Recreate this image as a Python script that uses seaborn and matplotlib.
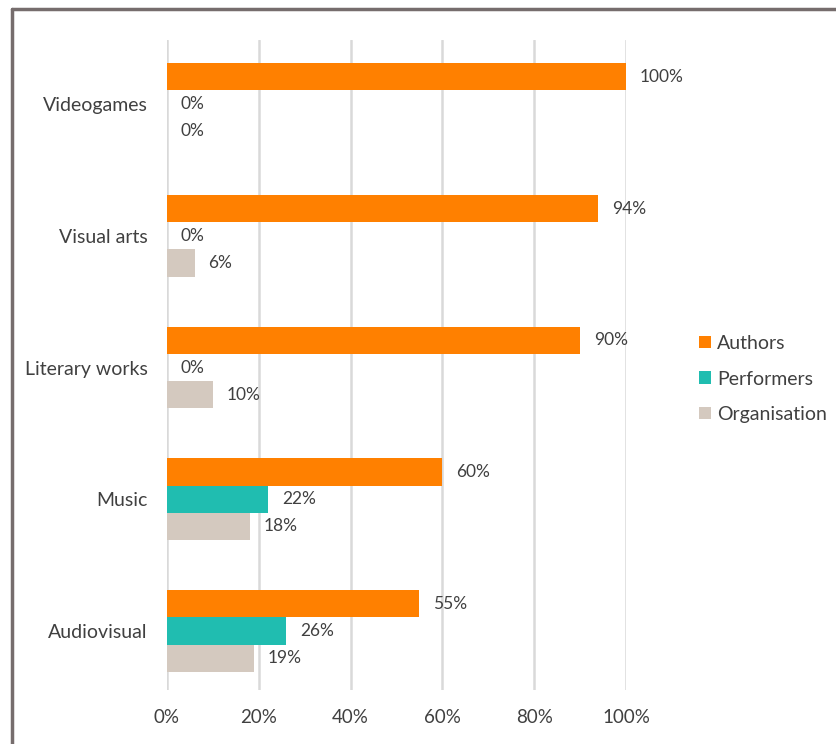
import pandas as pd
import seaborn as sns
import matplotlib.pyplot as plt
from matplotlib.patches import Patch
from matplotlib.lines import Line2D

# data
categories = ['Videogames', 'Visual arts', 'Literary works', 'Music', 'Audiovisual']
authors = [100, 94, 90, 60, 55]
performers = [0, 0, 0, 22, 26]
organisation = [0, 6, 10, 18, 19]
series = ['Authors', 'Performers', 'Organisation']
colors = ['#FF8000', '#20BDB0', '#D4C9BF']

df = pd.DataFrame({'category': categories, 'Authors': authors,
                   'Performers': performers, 'Organisation': organisation})
df = df.melt(id_vars='category', var_name='group', value_name='share')

sns.set_style('white')
plt.rcParams['font.family'] = ['Lato', 'DejaVu Sans']

fig = plt.figure(figsize=(8.37, 7.44), dpi=100)
ax = fig.add_axes([167 / 837, 1 - 690 / 744, (626 - 167) / 837, 650 / 744])

sns.barplot(data=df, y='category', x='share', hue='group', order=categories,
            hue_order=series, palette=colors, orient='h', width=0.62,
            linewidth=0, saturation=1, ax=ax, legend=False)

for cont in ax.containers:
    ax.bar_label(cont, fmt='%.0f%%', padding=10, fontsize=12.5, color='#404040')

ax.set_xlim(0, 100)
ax.set_ylim(4.448, -0.486)
ax.set_xticks([0, 20, 40, 60, 80, 100])
ax.set_xticklabels([f'{v}%' for v in [0, 20, 40, 60, 80, 100]])
ax.xaxis.grid(True, color='#d9d9d9', linewidth=1.8)
ax.set_axisbelow(True)
ax.tick_params(axis='x', length=0, pad=14, labelsize=13.5, labelcolor='#404040')
ax.tick_params(axis='y', length=0, pad=14, labelsize=14, labelcolor='#404040')
ax.set_xlabel('')
ax.set_ylabel('')
sns.despine(ax=ax, left=True, bottom=True)

handles = [Patch(facecolor=c, edgecolor='none', label=s) for c, s in zip(colors, series)]
fig.legend(handles=handles, loc='center left', bbox_to_anchor=(682 / 837, 1 - 379 / 744),
           frameon=False, fontsize=14, handlelength=0.6, handleheight=0.6,
           handletextpad=0.3, labelspacing=0.95, labelcolor='#404040')

# cropped outer frame
fig.add_artist(Line2D([12 / 837, 1], [1 - 9 / 744, 1 - 9 / 744], color='#766d6d', linewidth=2.5))
fig.add_artist(Line2D([12 / 837, 12 / 837], [0, 1 - 9 / 744], color='#766d6d', linewidth=2.5))

fig.savefig('out.png', dpi=100)
